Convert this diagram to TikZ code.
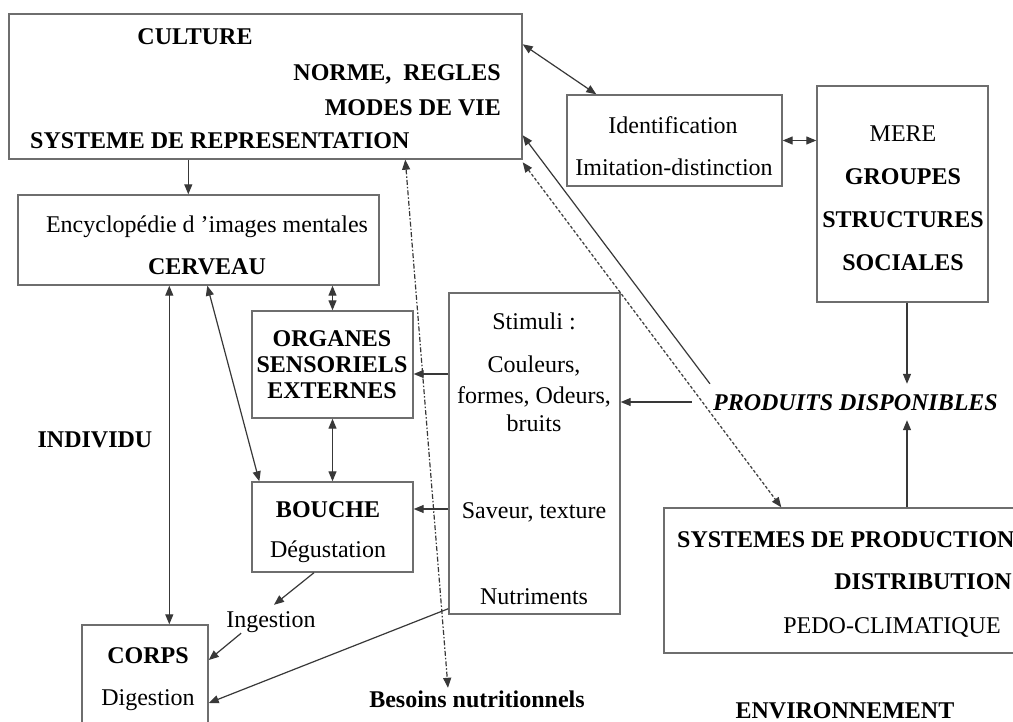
\documentclass[tikz,border=0pt]{standalone}
\usepackage{fontspec}
\setmainfont{Liberation Serif}
\usetikzlibrary{arrows.meta,calc}
\definecolor{boxgray}{HTML}{6E6E6E}
\definecolor{linegray}{HTML}{383838}
\begin{document}
\begin{tikzpicture}[x=1pt,y=-1pt,
  box/.style={draw=boxgray,line width=1.4pt,rectangle,inner sep=0pt},
  txt/.style={inner sep=0pt,text height=16pt,text depth=0pt,font=\fontsize{24}{26}\selectfont},
  bft/.style={txt,font=\fontsize{24}{26}\selectfont\bfseries},
  con/.style={draw=linegray,line width=1.2pt},
  ar/.style={con,-{Triangle[length=10pt,width=8pt]}},
  dar/.style={con,{Triangle[length=10pt,width=8pt]}-{Triangle[length=10pt,width=8pt]}},
  dsh/.style={dash pattern=on 3pt off 2pt},
  dshdot/.style={dash pattern=on 5pt off 2pt on 1.5pt off 2pt},
]
\fill[white] (0,0) rectangle (1013,722);
\useasboundingbox (0,0) rectangle (1013,722);

% boxes
\node[box,minimum width=513pt,minimum height=145pt] (culture) at (265.5,86.5) {};
\node[box,minimum width=361pt,minimum height=90pt] (ency) at (198.5,240) {};
\node[box,minimum width=215pt,minimum height=91pt] (ident) at (674.5,140.5) {};
\node[box,minimum width=171pt,minimum height=216pt] (mere) at (902.5,194) {};
\node[box,minimum width=161pt,minimum height=107pt] (organes) at (332.5,364.5) {};
\node[box,minimum width=171pt,minimum height=321pt] (stimuli) at (534.5,453.5) {};
\node[box,minimum width=161pt,minimum height=90pt] (bouche) at (332.5,527) {};
\node[box,minimum width=126pt,minimum height=115pt] (corps) at (145,682.5) {};
\node[box,minimum width=366pt,minimum height=145pt] (systemes) at (847,580.5) {};

% texts
\node[bft] (tculture) at (195,37) {CULTURE};
\node[bft,anchor=east] (tnorme) at (501,73) {NORME,\ \ REGLES};
\node[bft,anchor=east] (tmodes) at (501,108) {MODES DE VIE};
\node[bft,anchor=west] (tsysrep) at (30,141) {SYSTEME DE REPRESENTATION};
\node[txt] (tency) at (207,225) {Encyclopédie d ’images mentales};
\node[bft] (tcerveau) at (207,267) {CERVEAU};
\node[txt] (tident) at (673,126) {Identification};
\node[txt] (timit) at (674,168) {Imitation-distinction};
\node[txt] (tmere) at (903,134) {MERE};
\node[bft] (tgroupes) at (903,177) {GROUPES};
\node[bft] (tstruct) at (903,220) {STRUCTURES};
\node[bft] (tsociales) at (903,263) {SOCIALES};
\node[txt,font=\fontsize{24}{26}\selectfont\bfseries\itshape,inner xsep=21pt,inner ysep=10pt] (produits) at (855.5,402) {PRODUITS DISPONIBLES};
\node[bft] (torg1) at (332,339) {ORGANES};
\node[bft] (torg2) at (332,364) {SENSORIELS};
\node[bft] (torg3) at (332,390) {EXTERNES};
\node[txt] (tstim) at (534,322) {Stimuli :};
\node[txt] (tcoul) at (534,365) {Couleurs,};
\node[txt] (tformes) at (534,395) {formes, Odeurs,};
\node[txt] (tbruits) at (534,423) {bruits};
\node[txt] (tsaveur) at (534,510) {Saveur, texture};
\node[txt] (tnutri) at (534,596) {Nutriments};
\node[bft] (tbouche) at (328,509) {BOUCHE};
\node[txt] (tdegust) at (328,549) {Dégustation};
\node[bft] (tindividu) at (95,439) {INDIVIDU};
\node[txt,inner ysep=6pt] (ingestion) at (271,619) {Ingestion};
\node[bft] (tcorps) at (148,655) {CORPS};
\node[txt] (tdigest) at (148,697) {Digestion};
\node[bft,inner ysep=3pt] (besoins) at (477,699) {Besoins nutritionnels};
\node[bft,anchor=west] (tsysprod) at (677,539) {SYSTEMES DE PRODUCTION};
\node[bft,anchor=east] (tdistrib) at (1012,581) {DISTRIBUTION};
\node[txt] (tpedo) at (892,625) {PEDO-CLIMATIQUE};
\node[bft] (tenv) at (845,710) {ENVIRONNEMENT};

% connectors
\draw[ar] ([xshift=180pt]culture.south west) -- ([xshift=171pt]ency.north west);
\draw[dar] ([yshift=-31pt]culture.north east) -- ([xshift=30pt]ident.north west);
\draw[dar] (ident.east) -- (ident.east -| mere.west);
\draw[ar] ([xshift=4.5pt]mere.south) -- ($(mere.south |- produits.north)+(4.5,0)$);
\draw[ar] ([xshift=60pt]systemes.north) -- ($(systemes.north |- produits.south)+(60,0)$);
\draw[ar] ([xshift=18pt]produits.north west) -- ([yshift=-122pt]culture.north east);
\draw[dar,dsh] ([yshift=-149pt]culture.north east) -- ([xshift=118pt]systemes.north west);
\draw[ar] (produits.west) -- (produits.west -| stimuli.east);
\draw[dar] ([xshift=152pt]ency.south west) -- ($(ency.south west |- corps.north)+(152,0)$);
\draw[dar] ([xshift=190pt]ency.south west) -- ([xshift=8pt]bouche.north west);
\draw[dar] (organes.north) -- (organes.north |- ency.south);
\draw[dar] (organes.south) -- (bouche.north);
\draw[ar] ($(stimuli.west |- organes.east)+(0,9.5)$) -- ($(organes.east)+(0,9.5)$);
\draw[ar] ($(stimuli.west |- bouche.east)+(0,-18)$) -- ($(bouche.east)+(0,-18)$);
\draw[ar] ([xshift=-18.5pt]bouche.south) -- ([xshift=3pt]ingestion.north);
\draw[ar] ([xshift=15pt]ingestion.south west) -- ([yshift=22.5pt]corps.east);
\draw[ar] ([yshift=6pt]stimuli.south west) -- ([yshift=-20.5pt]corps.east);
\draw[dar,dshdot] ([xshift=397pt]culture.south west) -- ([xshift=-29pt]besoins.north);
\end{tikzpicture}
\end{document}
